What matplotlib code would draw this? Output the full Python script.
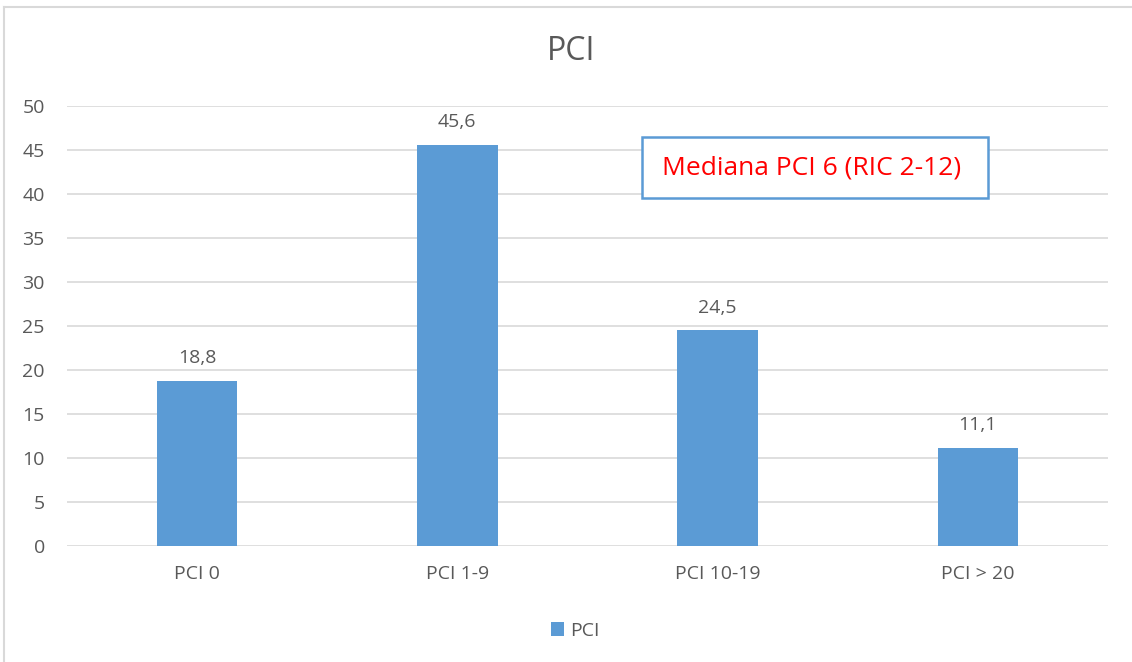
import matplotlib
matplotlib.use('Agg')
import matplotlib.pyplot as plt
from matplotlib.patches import Rectangle
from matplotlib.lines import Line2D

# Datos
categorias = ['PCI 0', 'PCI 1-9', 'PCI 10-19', 'PCI > 20']
valores = [18.8, 45.6, 24.5, 11.1]
etiquetas = ['18,8', '45,6', '24,5', '11,1']
yticks = [0, 5, 10, 15, 20, 25, 30, 35, 40, 45, 50]
serie = 'PCI'
nota = 'Mediana PCI 6 (RIC 2-12)'

plt.rcParams['font.family'] = ['Open Sans', 'DejaVu Sans']
gris = '#595959'
azul = '#5B9BD5'
W, H = 1132, 662

fig = plt.figure(figsize=(W / 100, H / 100), dpi=100)
ax = fig.add_axes([67 / W, 1 - 546 / H, (1108 - 67) / W, (546 - 106) / H])

x = range(len(categorias))
bars = ax.bar(x, valores, width=0.31, color=azul, zorder=3, label=serie)
for b, t in zip(bars, etiquetas):
    ax.annotate(t, (b.get_x() + b.get_width() / 2, b.get_height()),
                xytext=(0, 10), textcoords='offset points',
                ha='center', va='bottom', fontsize=14, color=gris)

ax.set_xlim(-0.5, len(categorias) - 0.5)
ax.set_ylim(0, 50)
ax.set_yticks(yticks)
ax.set_xticks(list(x))
ax.set_xticklabels(categorias)
ax.tick_params(axis='both', length=0, labelsize=14, labelcolor=gris)
ax.tick_params(axis='y', pad=16)
ax.tick_params(axis='x', pad=14)
ax.grid(axis='y', color='#D9D9D9', linewidth=1.2, zorder=0)
for s in ax.spines.values():
    s.set_visible(False)

fig.text(571 / W, 1 - 52 / H, 'PCI', ha='center', va='center', fontsize=23, color=gris)

# leyenda
fig.legend(loc='center', bbox_to_anchor=(575 / W, 1 - 631 / H), frameon=False,
           fontsize=14, labelcolor=gris, handlelength=0.7, handleheight=0.7,
           handletextpad=0.3)

# cuadro de texto
fig.add_artist(Rectangle((642 / W, 1 - 198 / H), 346 / W, 61 / H, transform=fig.transFigure,
                         facecolor='white', edgecolor=azul, linewidth=1.8, zorder=5))
fig.text(812 / W, 1 - 168 / H, nota, ha='center', va='center', fontsize=19,
         color='#FF0000', zorder=6)

# borde
fig.add_artist(Line2D([4 / W, 1], [1 - 7 / H, 1 - 7 / H], color='#D9D9D9', linewidth=1.5))
fig.add_artist(Line2D([4 / W, 4 / W], [0, 1 - 7 / H], color='#D9D9D9', linewidth=1.5))

fig.savefig('out.png', dpi=100)
